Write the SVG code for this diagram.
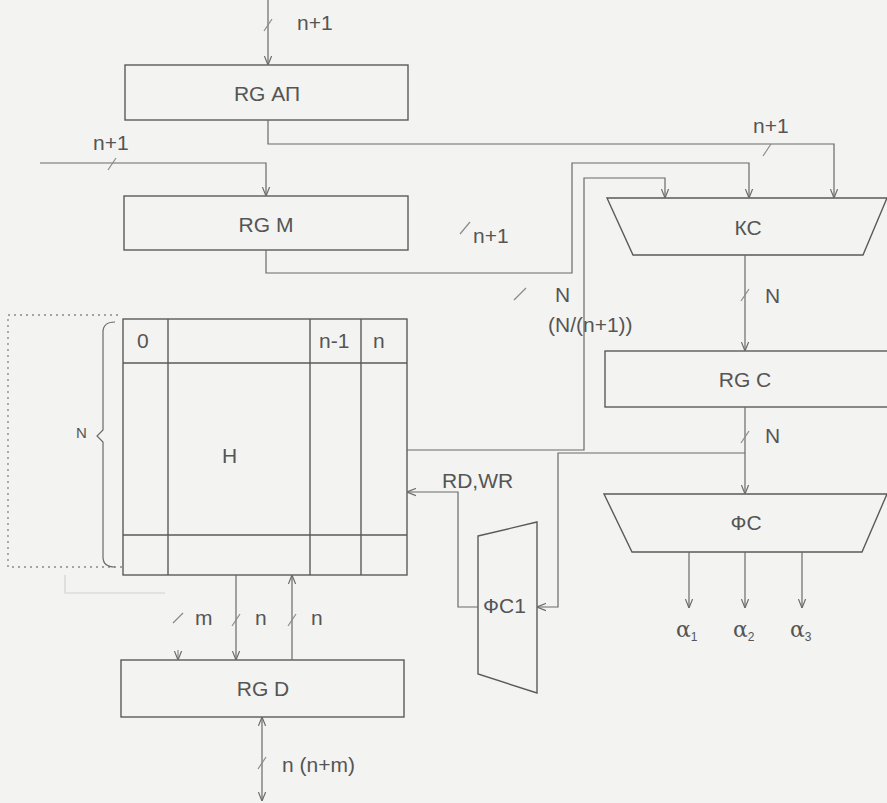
<svg xmlns="http://www.w3.org/2000/svg" width="887" height="803" viewBox="0 0 887 803">
<style>
.bg{fill:#f3f3f1}
.box{fill:none;stroke:#5a5a5a;stroke-width:1.4}
.ln{fill:none;stroke:#6a6a6a;stroke-width:1.2}
.faint{fill:none;stroke:#d2d2d0;stroke-width:1.2}
.tick{fill:none;stroke:#8a8a8a;stroke-width:1.2}
.dot{fill:none;stroke:#8a8a8a;stroke-width:1.4;stroke-dasharray:2 4}
text{font-family:"Liberation Sans",Arial,sans-serif;font-size:21px;fill:#555}
.c{text-anchor:middle}
.sm{font-size:15px}
.al{font-family:"DejaVu Serif","Liberation Serif",serif;font-size:22px}
.sub{font-family:"Liberation Sans",Arial,sans-serif;font-size:12px}
</style>
<defs>
<marker id="arr" viewBox="0 0 10 10" refX="10" refY="5" markerWidth="9" markerHeight="9" orient="auto-start-reverse" markerUnits="userSpaceOnUse">
<path d="M0,1 L10,5 L0,9" fill="none" stroke="#6a6a6a" stroke-width="1.3"/>
</marker>
</defs>
<rect class="bg" x="0" y="0" width="887" height="803"/>

<g id="rg-ap">
<rect class="box" x="125" y="65" width="283" height="55"/>
<text class="c" x="267" y="101">RG АП</text>
</g>
<g id="rg-m">
<rect class="box" x="124" y="196" width="284" height="54"/>
<text class="c" x="266" y="232">RG M</text>
</g>
<g id="kc">
<path class="box" d="M607,198 L887,198 L863,255 L633,255 Z"/>
<text class="c" x="748" y="235">КС</text>
</g>
<g id="rg-c">
<rect class="box" x="605" y="351" width="290" height="56"/>
<text class="c" x="745" y="387">RG C</text>
</g>
<g id="fc">
<path class="box" d="M604,494 L887,494 L862,552 L632,552 Z"/>
<text class="c" x="746" y="530">ФС</text>
</g>
<g id="fc1">
<path class="box" d="M478,536 L537,522 L537,693 L478,674 Z"/>
<text x="483" y="613">ФС1</text>
</g>
<g id="h">
<rect class="box" x="123" y="319" width="284" height="256"/>
<line class="box" x1="168" y1="319" x2="168" y2="575"/>
<line class="box" x1="310" y1="319" x2="310" y2="575"/>
<line class="box" x1="361" y1="319" x2="361" y2="575"/>
<line class="box" x1="123" y1="363" x2="407" y2="363"/>
<line class="box" x1="123" y1="535" x2="407" y2="535"/>
<text x="137" y="348">0</text>
<text x="319" y="348">n-1</text>
<text x="373" y="348">n</text>
<text x="222" y="463">H</text>
<path class="dot" d="M118,315 H8 V567 H122"/>
<path class="ln" d="M115,322 Q103,322 103,332 V430 L97,436 L103,442 V557 Q103,567 115,567"/>
<text class="sm" x="76" y="438">N</text>
</g>
<g id="rg-d">
<rect class="box" x="121" y="660" width="283" height="57"/>
<text class="c" x="263" y="696">RG D</text>
</g>

<g id="connectors">
<path class="ln" d="M268,0 V65" marker-end="url(#arr)"/>
<path class="ln" d="M268,120 V144 H834 V198" marker-end="url(#arr)"/>
<path class="ln" d="M40,163 H266 V196" marker-end="url(#arr)"/>
<path class="ln" d="M266,250 V273 H572 V163 H749 V198" marker-end="url(#arr)"/>
<path class="ln" d="M407,450 H584 V178 H665 V198" marker-end="url(#arr)"/>
<path class="ln" d="M745,255 V351" marker-end="url(#arr)"/>
<path class="ln" d="M745,407 V494" marker-end="url(#arr)"/>
<path class="ln" d="M745,453 H558 V607 H537" marker-end="url(#arr)"/>
<path class="ln" d="M478,607 H458 V492 H407" marker-end="url(#arr)"/>
<path class="ln" d="M689,552 V608" marker-end="url(#arr)"/>
<path class="ln" d="M745,552 V608" marker-end="url(#arr)"/>
<path class="ln" d="M802,552 V608" marker-end="url(#arr)"/>
<path class="ln" d="M236,575 V660" marker-end="url(#arr)"/>
<path class="ln" d="M292,660 V575" marker-end="url(#arr)"/>
<path class="faint" d="M65,575 V593 H165"/>
<path class="tick" d="M178,650 V660" marker-end="url(#arr)"/>
<path class="ln" d="M262,717 V801" marker-start="url(#arr)" marker-end="url(#arr)"/>

<path class="tick" d="M264,31 L272,19"/>
<path class="tick" d="M108,170 L116,158"/>
<path class="tick" d="M763,156 L771,144"/>
<path class="tick" d="M460,234 L470,222"/>
<path class="tick" d="M514,300 L526,288"/>
<path class="tick" d="M741,301 L749,289"/>
<path class="tick" d="M741,443 L749,431"/>
<path class="tick" d="M173,623 L183,613"/>
<path class="tick" d="M232,626 L240,614"/>
<path class="tick" d="M288,626 L296,614"/>
<path class="tick" d="M258,769 L266,757"/>

<text x="297" y="30">n+1</text>
<text x="93" y="150">n+1</text>
<text x="753" y="133">n+1</text>
<text x="473" y="243">n+1</text>
<text x="555" y="302">N</text>
<text x="548" y="332">(N/(n+1))</text>
<text x="765" y="303">N</text>
<text x="765" y="443">N</text>
<text x="442" y="488">RD,WR</text>
<text x="195" y="625">m</text>
<text x="255" y="625">n</text>
<text x="311" y="625">n</text>
<text x="282" y="772">n (n+m)</text>
<text class="al" x="676" y="637">α<tspan class="sub" dy="4">1</tspan></text>
<text class="al" x="733" y="637">α<tspan class="sub" dy="4">2</tspan></text>
<text class="al" x="790" y="637">α<tspan class="sub" dy="4">3</tspan></text>
</g>
</svg>
